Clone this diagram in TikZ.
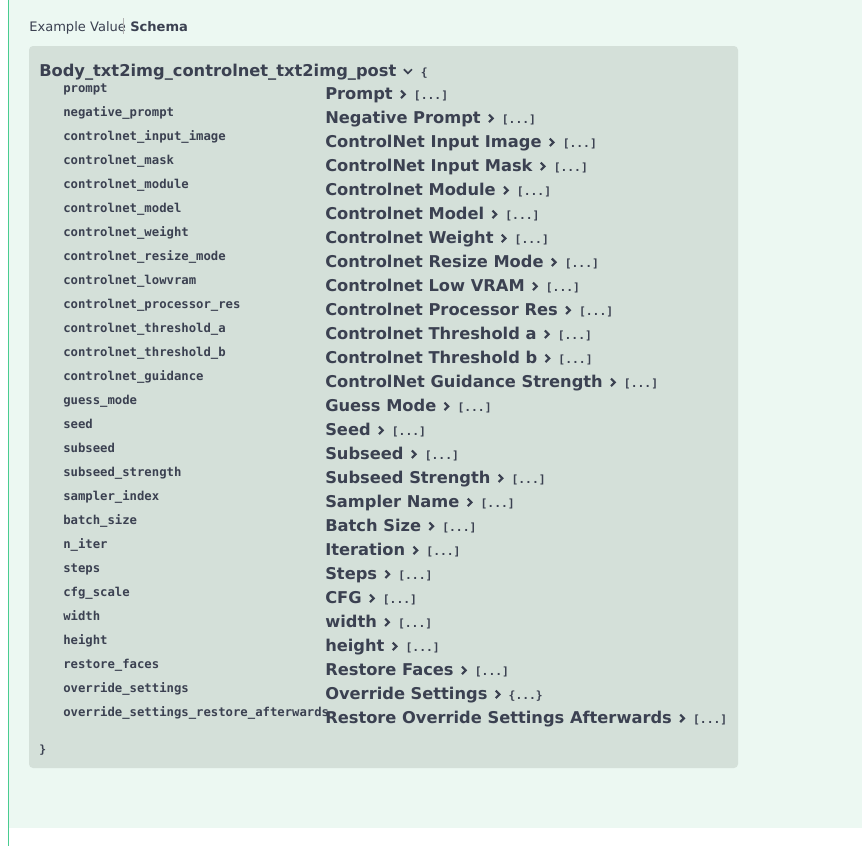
\documentclass[tikz,border=0pt]{standalone}
\usepackage{fontspec}
\setmainfont{DejaVu Sans}
\newfontfamily\monof{DejaVu Sans Mono}
\definecolor{bgg}{HTML}{ECF8F2}
\definecolor{edge}{HTML}{49CC90}
\definecolor{boxg}{HTML}{D4E0D9}
\definecolor{txt}{HTML}{3B4151}
\newcommand\myarr{[.{}.{}.]}
\newcommand\myobj{\{.{}.{}.\}}
\begin{document}
\begin{tikzpicture}[x=0.75pt,y=-0.75pt,
  nm/.style={anchor=base west,inner sep=0,font=\monof\bfseries\fontsize{9.2}{10}\selectfont,text=txt},
  ttl/.style={anchor=base west,inner sep=0,font=\bfseries\fontsize{12.2}{14}\selectfont,text=txt},
  brk/.style={anchor=base west,inner sep=0,font=\monof\bfseries\fontsize{8.5}{10}\selectfont,text=txt},
  chev/.style={draw=txt,line width=1.6pt}]
\useasboundingbox (0,0) rectangle (862,846);
\fill[white] (0,0) rectangle (862,846);
\fill[bgg] (8,0) rectangle (862,828);
\draw[edge,line width=1pt] (8.5,0) -- (8.5,846);
\node[anchor=base west,inner sep=0,font=\fontsize{9.8}{12}\selectfont,text=txt] (ev) at (29,31) {Example Value};
\draw[gray!60] (123,18) -- (123,34);
\node[anchor=base west,inner sep=0,font=\bfseries\fontsize{9.8}{12}\selectfont,text=txt] (sc) at (130,31) {Schema};
\fill[boxg,rounded corners=3pt] (29,46) rectangle (738,768);
\node[ttl] (title) at (39,76) {Body\_txt2img\_controlnet\_txt2img\_post};
\draw[chev,line width=1.3pt] ([xshift=5.5pt,yshift=5pt]title.base east) -- ++(3pt,-3pt) -- ++(3pt,3pt);
\node[brk] (ob) at ([xshift=18pt]title.base east) {\{};
\node[brk] (cb) at (39,753) {\}};
\foreach \i/\a/\b/\c in {
0/prompt/Prompt/\myarr,
1/negative\_prompt/Negative Prompt/\myarr,
2/controlnet\_input\_image/ControlNet Input Image/\myarr,
3/controlnet\_mask/ControlNet Input Mask/\myarr,
4/controlnet\_module/Controlnet Module/\myarr,
5/controlnet\_model/Controlnet Model/\myarr,
6/controlnet\_weight/Controlnet Weight/\myarr,
7/controlnet\_resize\_mode/Controlnet Resize Mode/\myarr,
8/controlnet\_lowvram/Controlnet Low VRAM/\myarr,
9/controlnet\_processor\_res/Controlnet Processor Res/\myarr,
10/controlnet\_threshold\_a/Controlnet Threshold a/\myarr,
11/controlnet\_threshold\_b/Controlnet Threshold b/\myarr,
12/controlnet\_guidance/ControlNet Guidance Strength/\myarr,
13/guess\_mode/Guess Mode/\myarr,
14/seed/Seed/\myarr,
15/subseed/Subseed/\myarr,
16/subseed\_strength/Subseed Strength/\myarr,
17/sampler\_index/Sampler Name/\myarr,
18/batch\_size/Batch Size/\myarr,
19/n\_iter/Iteration/\myarr,
20/steps/Steps/\myarr,
21/cfg\_scale/CFG/\myarr,
22/width/width/\myarr,
23/height/height/\myarr,
24/restore\_faces/Restore Faces/\myarr,
25/override\_settings/Override Settings/\myobj,
26/override\_settings\_restore\_afterwards/Restore Override Settings Afterwards/\myarr} {
  \node[nm] (n\i) at (63,{92+24*\i}) {\a};
  \node[ttl] (t\i) at (325,{99+24*\i}) {\b};
  \draw[chev] ([xshift=6pt,yshift=6.3pt]t\i.base east) -- ++(2.8pt,-2.8pt) -- ++(-2.8pt,-2.8pt);
  \node[brk] (b\i) at ([xshift=15.5pt]t\i.base east) {\c};
}
\end{tikzpicture}
\end{document}
